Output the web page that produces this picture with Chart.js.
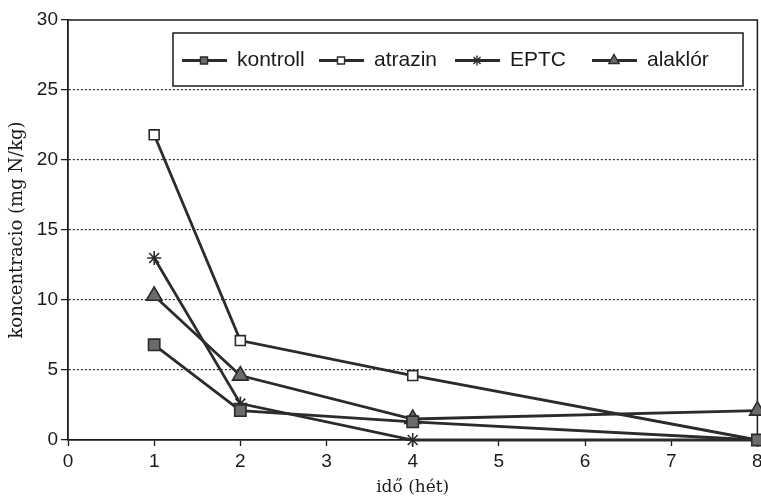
<!DOCTYPE html>
<html>
<head>
<meta charset="utf-8">
<script src="https://cdn.jsdelivr.net/npm/chart.js@4/dist/chart.umd.min.js"></script>
<style>
  html, body { margin: 0; padding: 0; background: #fff; overflow: hidden; }
  #wrap { position: relative; width: 768px; height: 500px; }
</style>
</head>
<body>
<div id="wrap"><canvas id="c"></canvas></div>
<script>
// ---- data ----
const weeks = [1, 2, 4, 8];
const kontroll = [6.8, 2.1, 1.3, 0.0];
const atrazin = [21.8, 7.1, 4.6, 0.0];
const eptc = [13.0, 2.6, 0.0, 0.0];
const alaklor = [10.3, 4.6, 1.5, 2.1];
const seriesNames = ['kontroll', 'atrazin', 'EPTC', 'alaklór'];
const xTicks = [0, 1, 2, 3, 4, 5, 6, 7, 8];
const yTicks = [0, 5, 10, 15, 20, 25, 30];
const xTitle = 'idő (hét)';
const yTitle = 'koncentracio (mg N/kg)';

const LINE = '#2b2b2b';
const FILL = '#6b6b6b';

function pts(vals) { return weeks.map((w, i) => ({ x: w, y: vals[i] })); }

const styles = [
  { pointStyle: 'rect', pointRadius: 8, pointBackgroundColor: FILL },
  { pointStyle: 'rect', pointRadius: 7, pointBackgroundColor: '#ffffff' },
  { pointStyle: 'star', pointRadius: 7, pointBackgroundColor: LINE },
  { pointStyle: 'triangle', pointRadius: 9, pointBackgroundColor: FILL }
];
const legendRadius = [5, 5, 5, 6];

const datasets = [kontroll, atrazin, eptc, alaklor].map((vals, i) => Object.assign({
  label: seriesNames[i],
  data: pts(vals),
  borderColor: LINE,
  borderWidth: 2.8,
  pointBorderColor: LINE,
  pointBorderWidth: 1.6,
  pointHoverRadius: 8,
  tension: 0,
  clip: false
}, styles[i]));

// frame (top and right) + legend box inside plot
const framePlugin = {
  id: 'frame',
  beforeDatasetsDraw(chart) {
    const { ctx, chartArea: a } = chart;
    ctx.save();
    ctx.strokeStyle = '#1a1a1a';
    ctx.lineWidth = 1.5;
    ctx.beginPath();
    ctx.moveTo(a.left, a.top);
    ctx.lineTo(a.right, a.top);
    ctx.lineTo(a.right, a.bottom);
    ctx.stroke();
    ctx.restore();
  },
  afterDraw(chart) {
    const { ctx } = chart;
    const bx = 173, by = 33, bw = 570, bh = 53;
    ctx.save();
    ctx.fillStyle = '#fff';
    ctx.fillRect(bx, by, bw, bh);
    ctx.strokeStyle = '#1a1a1a';
    ctx.lineWidth = 1.5;
    ctx.strokeRect(bx, by, bw, bh);
    const cy = by + bh / 2 + 1;
    const starts = [182, 319, 455, 592];
    ctx.font = '21px "Liberation Sans", Arial, sans-serif';
    ctx.textBaseline = 'middle';
    chart.data.datasets.forEach((ds, i) => {
      const x0 = starts[i];
      ctx.strokeStyle = LINE;
      ctx.lineWidth = 2.8;
      ctx.beginPath();
      ctx.moveTo(x0, cy);
      ctx.lineTo(x0 + 45, cy);
      ctx.stroke();
      const opts = {
        pointStyle: ds.pointStyle,
        radius: legendRadius[i],
        borderWidth: 1.4,
        rotation: 0
      };
      ctx.fillStyle = ds.pointBackgroundColor;
      ctx.strokeStyle = LINE;
      ctx.lineWidth = 1.4;
      if (Chart.helpers && Chart.helpers.drawPoint) {
        Chart.helpers.drawPoint(ctx, opts, x0 + 22, cy);
      }
      ctx.fillStyle = '#1a1a1a';
      ctx.fillText(ds.label, x0 + 55, cy);
    });
    ctx.restore();
  }
};

new Chart(document.getElementById('c'), {
  type: 'line',
  data: { datasets },
  options: {
    responsive: true,
    maintainAspectRatio: false,
    animation: false,
    events: [],
    layout: { padding: { top: 20, right: 0, left: 0, bottom: 0 } },
    plugins: {
      legend: { display: false },
      tooltip: { enabled: false }
    },
    scales: {
      x: {
        type: 'linear',
        min: 0, max: 8,
        afterBuildTicks(scale) { scale.ticks = xTicks.map(v => ({ value: v })); },
        afterFit(scale) { scale.height = 60; },
        ticks: {
          color: '#1a1a1a',
          padding: 4,
          font: { family: '"Liberation Sans", Arial, sans-serif', size: 19 }
        },
        grid: {
          display: true,
          drawOnChartArea: false,
          drawTicks: true,
          tickLength: 6,
          tickColor: '#1a1a1a',
          tickWidth: 1.3
        },
        border: { display: true, color: '#1a1a1a', width: 1.8 },
        title: {
          display: true,
          text: xTitle,
          color: '#1a1a1a',
          padding: { top: 0, bottom: 2 },
          font: { family: '"DejaVu Serif", serif', size: 17 }
        }
      },
      y: {
        min: 0, max: 30,
        afterBuildTicks(scale) { scale.ticks = yTicks.map(v => ({ value: v })); },
        afterFit(scale) { scale.width = 68; },
        ticks: {
          color: '#1a1a1a',
          padding: 3,
          font: { family: '"Liberation Sans", Arial, sans-serif', size: 19 }
        },
        grid: {
          display: true,
          drawTicks: true,
          tickLength: 7,
          tickColor: '#1a1a1a',
          tickWidth: 1.3,
          tickBorderDash: [1, 0],
          color: (c) => (c.tick && (c.tick.value === 0 || c.tick.value === 30)) ? 'rgba(0,0,0,0)' : '#2a2a2a',
          lineWidth: 1.2
        },
        border: { display: true, color: '#1a1a1a', width: 1.8, dash: [2, 2] },
        title: {
          display: true,
          text: yTitle,
          color: '#1a1a1a',
          padding: { top: 7, bottom: 0 },
          font: { family: '"DejaVu Serif", serif', size: 18 }
        }
      }
    }
  },
  plugins: [framePlugin]
});
</script>
</body>
</html>
